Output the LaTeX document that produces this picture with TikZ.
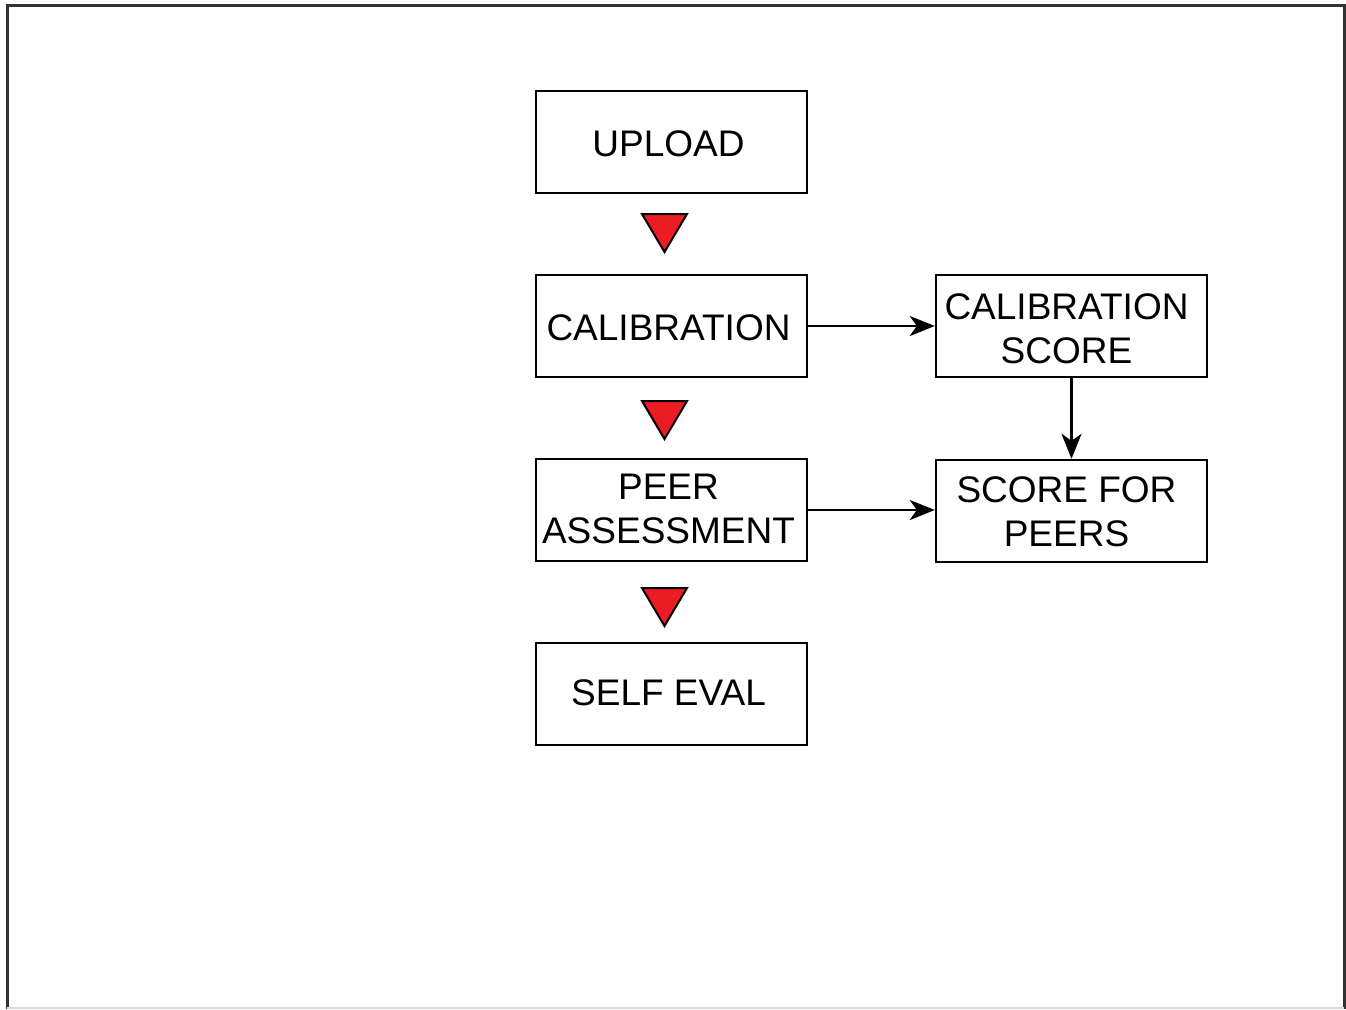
\documentclass[tikz,border=0pt]{standalone}
\usepackage{fontspec}
\setmainfont{Liberation Sans}
\usetikzlibrary{arrows.meta}
\definecolor{tri}{HTML}{ED1C24}
\definecolor{frame}{HTML}{333333}
\begin{document}
\begin{tikzpicture}[x=1pt,y=-1pt,
  box/.style={draw=black,line width=2.4pt,minimum width=271pt,minimum height=102pt,inner sep=0pt},
  txt/.style={align=center,inner sep=0pt,font=\fontsize{37}{44.5}\selectfont},
  conn/.style={line width=2.4pt,-{Stealth[length=25pt,width=20pt,inset=7pt]}},
  redtri/.style={fill=tri,draw=black,line width=2pt,line join=miter}]
\useasboundingbox (0,0) rectangle (1346,1009);
\draw[frame,line width=3pt] (7,1009) -- (7,5) -- (1344,5) -- (1344,1009);
\draw[black!15,line width=1.5pt] (7,1008) -- (1344,1008);
\node[box] (upload) at (671.5,142) {};
\node[box] (calib) at (671.5,326) {};
\node[box] (peer) at (671.5,510) {};
\node[box] (self) at (671.5,694) {};
\node[box] (cscore) at (1071.5,326) {};
\node[box] (speers) at (1071.5,511) {};
\node[txt] (uploadt) at ([xshift=-3pt,yshift=-2pt]upload.center) {UPLOAD};
\node[txt] (calibt) at ([xshift=-3pt,yshift=-2pt]calib.center) {CALIBRATION};
\node[txt] (peert) at ([xshift=-3pt,yshift=1pt]peer.center) {PEER\\ASSESSMENT};
\node[txt] (selft) at ([xshift=-3pt,yshift=1pt]self.center) {SELF EVAL};
\node[txt] (cscoret) at ([xshift=-5pt,yshift=-3pt]cscore.center) {CALIBRATION\\SCORE};
\node[txt] (speerst) at ([xshift=-5pt,yshift=-1pt]speers.center) {SCORE FOR\\PEERS};
\draw[redtri] (642,214) -- (687,214) -- (664.5,252) -- cycle;
\draw[redtri] (642,401) -- (687,401) -- (664.5,439) -- cycle;
\draw[redtri] (642,588) -- (687,588) -- (664.5,626) -- cycle;
\draw[conn] (calib.east) -- (cscore.west);
\draw[conn] (peer.east) -- (peer.east -| speers.west);
\draw[conn] (cscore.south) -- (speers.north);
\end{tikzpicture}
\end{document}
